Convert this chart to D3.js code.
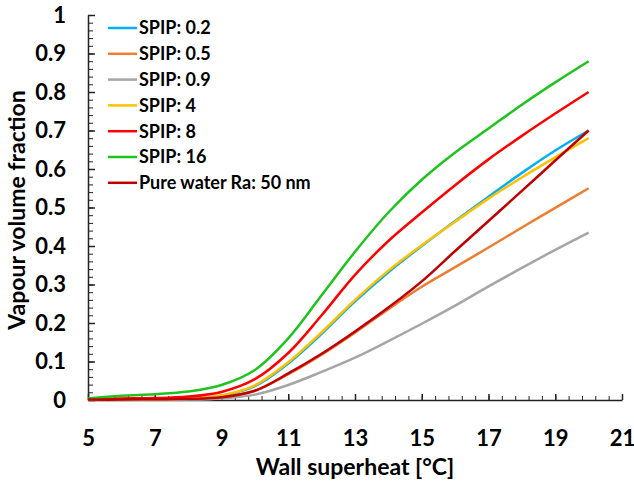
<!DOCTYPE html>
<html>
<head>
<meta charset="utf-8">
<script src="https://cdn.jsdelivr.net/npm/d3@7/dist/d3.min.js"></script>
<style>
  html, body { margin: 0; padding: 0; background: #fff; }
  svg { display: block; }
  text { font-family: Lato, "Open Sans", sans-serif; font-weight: bold; fill: #000; }
</style>
</head>
<body>
<svg id="chart" width="634" height="481"></svg>
<script>
// Wall superheat [°C]
const superheat = [5, 6, 7, 8, 9, 10, 11, 12, 13, 14, 15, 16, 17, 18, 19, 20];

// Vapour volume fraction for each surface
const spip02 = [0.001, 0.002, 0.002, 0.003, 0.011, 0.036, 0.095, 0.172, 0.256, 0.332, 0.400, 0.465, 0.528, 0.590, 0.648, 0.700];
const spip05 = [0.001, 0.001, 0.002, 0.003, 0.007, 0.024, 0.067, 0.118, 0.175, 0.236, 0.294, 0.345, 0.396, 0.448, 0.499, 0.550];
const spip09 = [0.000, 0.000, 0.001, 0.001, 0.004, 0.014, 0.039, 0.073, 0.110, 0.153, 0.198, 0.245, 0.295, 0.343, 0.390, 0.435];
const spip4  = [0.001, 0.002, 0.002, 0.004, 0.012, 0.038, 0.098, 0.176, 0.260, 0.336, 0.402, 0.463, 0.523, 0.578, 0.630, 0.680];
const spip8  = [0.002, 0.004, 0.005, 0.009, 0.021, 0.054, 0.122, 0.220, 0.325, 0.413, 0.487, 0.558, 0.625, 0.686, 0.744, 0.800];
const spip16 = [0.004, 0.011, 0.015, 0.022, 0.039, 0.078, 0.160, 0.272, 0.385, 0.487, 0.572, 0.643, 0.705, 0.767, 0.825, 0.880];
const pureWater = [0.001, 0.001, 0.002, 0.003, 0.007, 0.024, 0.069, 0.120, 0.178, 0.240, 0.308, 0.387, 0.465, 0.543, 0.622, 0.700];

const seriesNames = ["SPIP: 0.2", "SPIP: 0.5", "SPIP: 0.9", "SPIP: 4", "SPIP: 8", "SPIP: 16", "Pure water Ra: 50 nm"];
const seriesValues = [spip02, spip05, spip09, spip4, spip8, spip16, pureWater];
const seriesColors = ["#00B0F0", "#ED7D31", "#A5A5A5", "#FFC000", "#FF0000", "#1EC31E", "#C00000"];

// Axis ticks
const xMajorTicks = [5, 7, 9, 11, 13, 15, 17, 19, 21];
const yMajorTicks = [0, 0.1, 0.2, 0.3, 0.4, 0.5, 0.6, 0.7, 0.8, 0.9, 1];

const svg = d3.select("#chart");

const x = d3.scaleLinear().domain([5, 21]).range([88, 622]);
const y = d3.scaleLinear().domain([0, 1]).range([400, 15]);

const xMinor = d3.range(0, 41).map(i => 5 + i * 0.4);
const yMinor = d3.range(0, 51).map(i => i * 0.02);

// minor ticks (inward, no labels)
svg.append("g")
  .attr("transform", "translate(0,400)")
  .call(d3.axisBottom(x).tickValues(xMinor).tickSize(-4).tickFormat(""))
  .call(g => g.select(".domain").remove())
  .selectAll("line").attr("stroke", "#222").attr("stroke-width", 1);

svg.append("g")
  .attr("transform", "translate(88,0)")
  .call(d3.axisLeft(y).tickValues(yMinor).tickSize(-5).tickFormat(""))
  .call(g => g.select(".domain").remove())
  .selectAll("line").attr("stroke", "#222").attr("stroke-width", 1);

// major axes
const xAxis = svg.append("g")
  .attr("transform", "translate(0,400)")
  .call(d3.axisBottom(x).tickValues(xMajorTicks).tickSize(-6).tickSizeOuter(0).tickPadding(30).tickFormat(d3.format("d")));
xAxis.select(".domain").attr("stroke", "#222").attr("stroke-width", 1.5);
xAxis.selectAll(".tick line").attr("stroke", "#222").attr("stroke-width", 1.5);
xAxis.selectAll("text").style("font-size", "22px").attr("fill", "#000");

const yAxis = svg.append("g")
  .attr("transform", "translate(88,0)")
  .call(d3.axisLeft(y).tickValues(yMajorTicks).tickSize(-7).tickSizeOuter(0).tickPadding(22)
    .tickFormat(d => d === 0 ? "0" : d === 1 ? "1" : d3.format(".1f")(d)));
yAxis.select(".domain").attr("stroke", "#222").attr("stroke-width", 1.5);
yAxis.selectAll(".tick line").attr("stroke", "#222").attr("stroke-width", 1.5);
yAxis.selectAll("text").style("font-size", "22px").attr("fill", "#000");

// data lines
const line = d3.line()
  .x((d, i) => x(superheat[i]))
  .y(d => y(d))
  .curve(d3.curveCatmullRom.alpha(0.5));

seriesValues.forEach((vals, k) => {
  svg.append("path")
    .datum(vals)
    .attr("fill", "none")
    .attr("stroke", seriesColors[k])
    .attr("stroke-width", 2.5)
    .attr("stroke-linejoin", "round")
    .attr("d", line);
});

// axis titles
svg.append("text")
  .attr("x", 355).attr("y", 475)
  .attr("text-anchor", "middle")
  .style("font-size", "23px")
  .text("Wall superheat [°C]");

svg.append("text")
  .attr("transform", "translate(25,210) rotate(-90)")
  .attr("text-anchor", "middle")
  .style("font-size", "23px")
  .text("Vapour volume fraction");

// legend
const legend = svg.append("g");
seriesNames.forEach((name, k) => {
  const ly = 28 + k * 25.8;
  legend.append("line")
    .attr("x1", 108).attr("x2", 137)
    .attr("y1", ly).attr("y2", ly)
    .attr("stroke", seriesColors[k])
    .attr("stroke-width", 2.5);
  legend.append("text")
    .attr("x", 139).attr("y", ly)
    .attr("dy", "0.36em")
    .style("font-size", "18px")
    .text(name);
});
</script>
</body>
</html>
